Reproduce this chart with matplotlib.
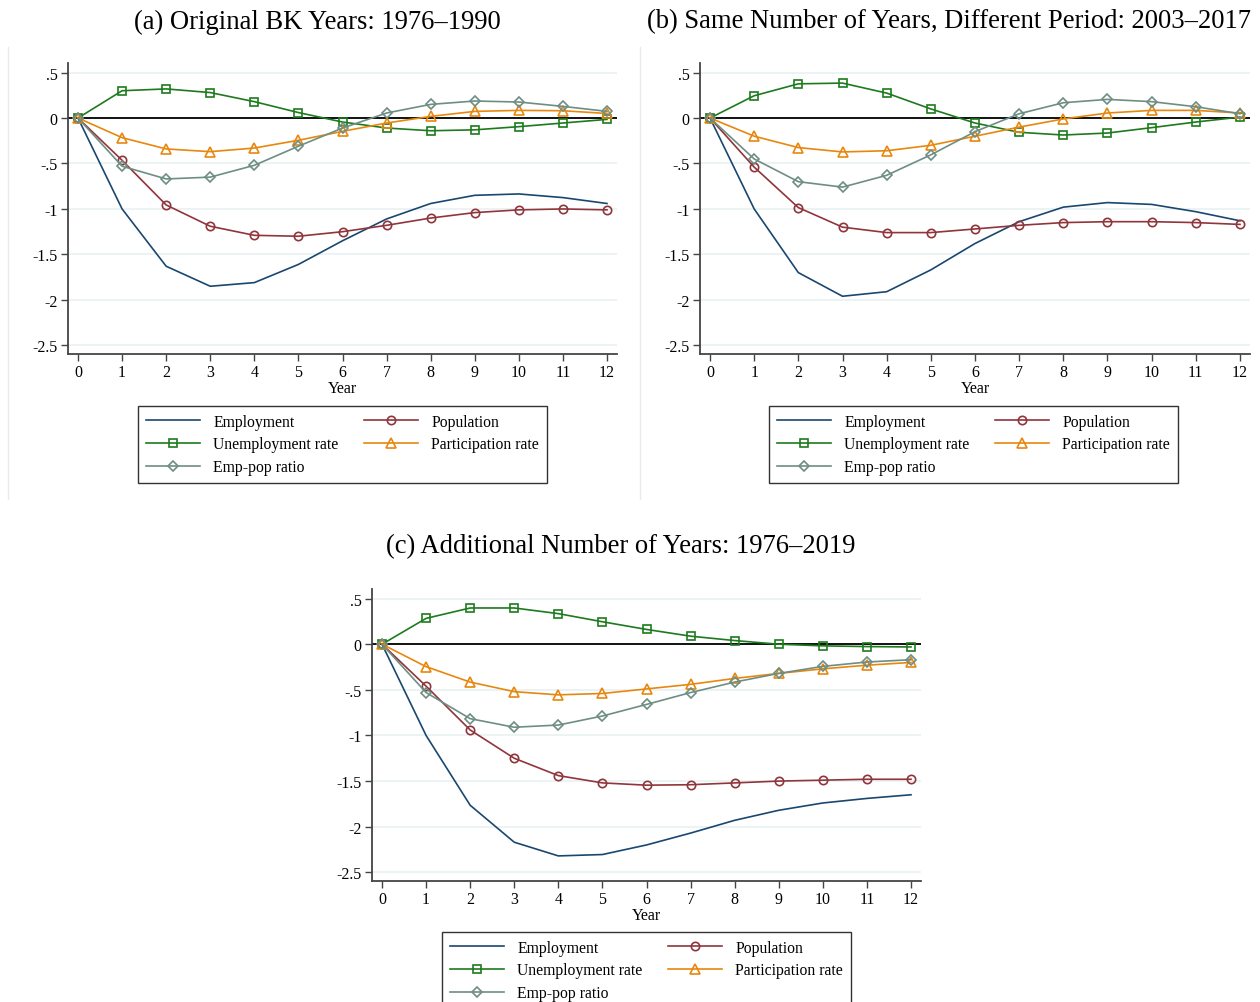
import matplotlib
matplotlib.use("Agg")
import matplotlib.pyplot as plt
from matplotlib.lines import Line2D

plt.rcParams['font.family'] = ['Liberation Serif', 'DejaVu Serif']

years = list(range(13))

# (a) 1976-1990
emp_a = [0, -1.00, -1.63, -1.85, -1.81, -1.61, -1.35, -1.11, -0.94, -0.85, -0.835, -0.875, -0.94]
pop_a = [0, -0.465, -0.956, -1.19, -1.29, -1.30, -1.25, -1.18, -1.10, -1.04, -1.01, -1.00, -1.01]
unr_a = [0, 0.30, 0.32, 0.28, 0.18, 0.06, -0.044, -0.11, -0.14, -0.13, -0.095, -0.055, -0.015]
lfp_a = [0, -0.216, -0.34, -0.37, -0.33, -0.245, -0.147, -0.055, 0.018, 0.073, 0.084, 0.08, 0.05]
epr_a = [0, -0.53, -0.67, -0.65, -0.52, -0.31, -0.11, 0.055, 0.15, 0.187, 0.176, 0.128, 0.073]

# (b) 2003-2017
emp_b = [0, -1.00, -1.70, -1.96, -1.91, -1.67, -1.38, -1.14, -0.98, -0.93, -0.95, -1.03, -1.13]
pop_b = [0, -0.54, -0.985, -1.20, -1.26, -1.26, -1.22, -1.18, -1.15, -1.14, -1.14, -1.15, -1.17]
unr_b = [0, 0.245, 0.376, 0.384, 0.274, 0.10, -0.055, -0.157, -0.187, -0.165, -0.106, -0.044, 0.01]
lfp_b = [0, -0.20, -0.325, -0.373, -0.36, -0.30, -0.20, -0.10, -0.01, 0.055, 0.084, 0.084, 0.055]
epr_b = [0, -0.45, -0.70, -0.76, -0.63, -0.405, -0.15, 0.047, 0.168, 0.205, 0.18, 0.124, 0.047]

# (c) 1976-2019
emp_c = [0, -1.00, -1.765, -2.17, -2.32, -2.305, -2.20, -2.07, -1.93, -1.82, -1.74, -1.69, -1.65]
pop_c = [0, -0.46, -0.94, -1.25, -1.44, -1.52, -1.545, -1.54, -1.52, -1.50, -1.49, -1.48, -1.48]
unr_c = [0, 0.283, 0.397, 0.397, 0.335, 0.246, 0.162, 0.088, 0.04, 0.0, -0.018, -0.026, -0.03]
lfp_c = [0, -0.246, -0.415, -0.52, -0.555, -0.54, -0.49, -0.44, -0.375, -0.32, -0.27, -0.23, -0.20]
epr_c = [0, -0.53, -0.816, -0.91, -0.886, -0.787, -0.66, -0.53, -0.415, -0.32, -0.243, -0.195, -0.17]

titles = ['(a) Original BK Years: 1976\u20131990',
          '(b) Same Number of Years, Different Period: 2003\u20132017',
          '(c) Additional Number of Years: 1976\u20132019']
labels = ['Employment', 'Population', 'Unemployment rate', 'Participation rate', 'Emp-pop ratio']
colors = ['#1a476f', '#90353b', '#1d7a1d', '#e8870e', '#6e8e84']
markers = [None, 'o', 's', '^', 'D']
msizes = [0, 6, 6, 6.5, 5.5]

yticks = [0.5, 0, -0.5, -1, -1.5, -2, -2.5]
ytick_labels = ['.5', '0', '-.5', '-1', '-1.5', '-2', '-2.5']

W, H = 1260, 1003
fig = plt.figure(figsize=(W / 100, H / 100), dpi=100)


def px_axes(left, right, top, bottom):
    return fig.add_axes([left / W, 1 - bottom / H, (right - left) / W, (bottom - top) / H])


def draw_panel(ax, series, legend_xy):
    ax.set_xlim(-0.227, 12.227)
    ax.set_ylim(-2.595, 0.605)
    for y in yticks:
        ax.axhline(y, color='#e9f1f2', lw=1.2, zorder=0)
    ax.axhline(0, color='black', lw=1.3, zorder=1)
    handles = []
    for vals, lab, c, m, ms in zip(series, labels, colors, markers, msizes):
        h, = ax.plot(years, vals, color=c, lw=1.2, marker=m, markersize=ms,
                     markerfacecolor='none', markeredgecolor=c, markeredgewidth=1.2,
                     label=lab, zorder=3)
        handles.append(h)
    ax.set_xticks(years)
    ax.set_yticks(yticks)
    ax.set_yticklabels(ytick_labels)
    ax.set_xlabel('Year', fontsize=11.5, labelpad=0)
    ax.tick_params(axis='both', labelsize=11.5, length=5, width=1, color='#444444', pad=2.5)
    for s in ['top', 'right']:
        ax.spines[s].set_visible(False)
    for s in ['left', 'bottom']:
        ax.spines[s].set_color('#444444')
        ax.spines[s].set_linewidth(1.3)
    order = [0, 2, 4, 1, 3]
    leg = fig.legend([handles[i] for i in order], [labels[i] for i in order],
                     ncol=2, loc='upper left',
                     bbox_to_anchor=(legend_xy[0] / W, 1 - legend_xy[1] / H),
                     bbox_transform=fig.transFigure, fontsize=11.3,
                     frameon=True, fancybox=False, edgecolor='black',
                     handlelength=3.45, handletextpad=0.85, columnspacing=1.6,
                     labelspacing=0.42, borderpad=0.5, borderaxespad=0)
    leg.get_frame().set_linewidth(1.0)


ax_a = px_axes(68, 617, 64, 355)
draw_panel(ax_a, [emp_a, pop_a, unr_a, lfp_a, epr_a], (138, 407))
ax_b = px_axes(700, 1250, 64, 355)
draw_panel(ax_b, [emp_b, pop_b, unr_b, lfp_b, epr_b], (769, 407))
ax_c = px_axes(372, 921, 590, 882)
draw_panel(ax_c, [emp_c, pop_c, unr_c, lfp_c, epr_c], (442, 933))

fig.text(317 / W, 1 - 22 / H, titles[0], ha='center', va='center', fontsize=19.2)
fig.text(949 / W, 1 - 22 / H, titles[1], ha='center', va='center', fontsize=19.2)
fig.text(621 / W, 1 - 547 / H, titles[2], ha='center', va='center', fontsize=19.2)

# faint panel borders
for xp in (8, 640):
    fig.add_artist(Line2D([xp / W, xp / W], [1 - 48 / H, 1 - 500 / H],
                          transform=fig.transFigure, color='#e6ecee', lw=1))

fig.savefig('out.png', dpi=100)
